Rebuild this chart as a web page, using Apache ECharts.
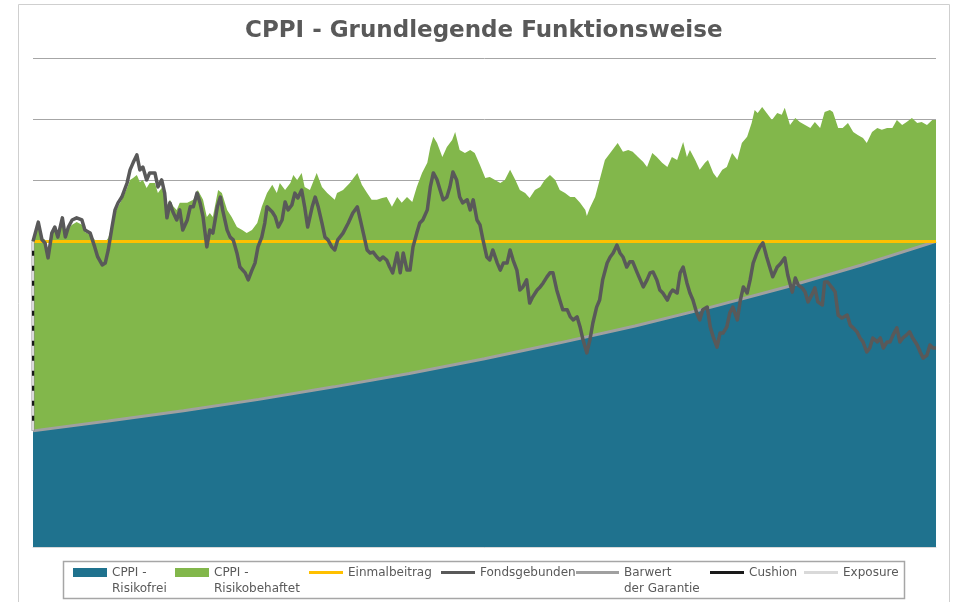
<!DOCTYPE html>
<html>
<head>
<meta charset="utf-8">
<title>CPPI - Grundlegende Funktionsweise</title>
<script src="https://cdn.jsdelivr.net/npm/echarts@6/dist/echarts.min.js"></script>
<style>
html, body { margin: 0; padding: 0; background: #fff; }
#cppi-chart { width: 953px; height: 602px; }
</style>
</head>
<body>
<div id="cppi-chart"></div>
<script>
// Zeitachse in Monaten (10 Jahre), Werte in % des Einmalbeitrags
const laufzeitMonate = 120;
const einmalbeitrag = 100;

// Fondsgebundene Anlage (reiner Fonds ohne Garantie)
const fondsMonate = [
    0, 0.7, 1.2, 1.6, 2.0, 2.5, 2.9, 3.3, 3.9, 4.3,
    4.7, 5.2, 5.8, 6.5, 6.9, 7.6, 8.2, 8.6, 9.2, 9.6,
    10.0, 10.5, 10.9, 11.3, 11.8, 12.5, 12.9, 13.3, 13.8, 14.2,
    14.6, 15.1, 15.5, 16.2, 16.6, 17.1, 17.5, 17.8, 18.2, 18.6,
    19.1, 19.5, 19.9, 20.5, 20.9, 21.3, 21.8, 22.2, 22.6, 23.1,
    23.5, 23.9, 24.5, 24.9, 25.2, 25.8, 26.2, 26.6, 27.1, 27.5,
    28.2, 28.6, 29.1, 29.5, 29.9, 30.4, 30.8, 31.1, 31.8, 32.2,
    32.6, 33.1, 33.5, 33.9, 34.4, 34.8, 35.2, 35.7, 36.1, 36.5,
    37.1, 37.5, 37.9, 38.4, 38.8, 39.2, 39.7, 40.1, 40.5, 41.2,
    41.9, 42.5, 43.1, 43.5, 43.9, 44.4, 44.8, 45.2, 45.7, 46.1,
    46.5, 47.0, 47.4, 47.8, 48.4, 48.8, 49.2, 49.7, 50.1, 50.5,
    51.0, 51.4, 51.8, 52.4, 52.8, 53.2, 53.7, 54.1, 54.5, 55.0,
    55.4, 55.8, 56.3, 56.7, 57.1, 57.7, 58.1, 58.5, 59.0, 59.4,
    59.8, 60.3, 60.7, 61.1, 61.7, 62.1, 62.5, 63.0, 63.4, 63.8,
    64.3, 64.7, 65.1, 65.6, 66.0, 66.4, 67.0, 67.4, 67.8, 68.3,
    68.7, 69.1, 69.6, 70.0, 70.4, 71.0, 71.4, 71.8, 72.3, 72.7,
    73.1, 73.6, 74.0, 74.4, 74.9, 75.3, 75.7, 76.3, 76.7, 77.1,
    77.6, 78.0, 78.4, 78.9, 79.3, 79.7, 80.3, 80.7, 81.1, 81.6,
    82.0, 82.4, 82.9, 83.3, 83.7, 84.3, 84.7, 85.0, 85.6, 86.0,
    86.4, 86.9, 87.3, 87.7, 88.2, 88.6, 89.0, 89.6, 90.0, 90.4,
    90.9, 91.3, 91.7, 92.2, 92.6, 93.0, 93.6, 94.0, 94.4, 94.9,
    95.3, 95.7, 96.2, 96.6, 97.0, 97.5, 97.9, 98.3, 98.9, 99.3,
    99.9, 100.3, 100.9, 101.3, 101.7, 102.2, 102.6, 103.0, 103.5, 103.9,
    104.3, 104.9, 105.2, 105.6, 106.2, 106.6, 107.0, 107.5, 108.2, 108.6,
    109.0, 109.5, 109.9, 110.3, 110.8, 111.2, 111.6, 112.2, 112.6, 113.0,
    113.5, 113.9, 114.3, 114.8, 115.2, 115.6, 116.1, 116.5, 116.9, 117.5,
    117.9, 118.3, 118.8, 119.2, 119.6, 120.0
];
const fondsWerte = [
    100, 106.3, 100.5, 99.5, 94.6, 102.7, 104.7, 101.4, 107.7, 101.4,
    104.7, 107.0, 107.7, 107.0, 103.7, 102.7, 98.2, 94.9, 92.3, 92.9,
    97.2, 104.7, 110.3, 112.6, 114.5, 119.1, 123.4, 125.7, 128.3, 123.4,
    124.3, 120.1, 122.4, 122.4, 117.8, 120.1, 115.8, 107.7, 112.6, 109.6,
    107.0, 110.3, 103.7, 107.0, 111.3, 111.3, 115.8, 112.6, 108.0, 98.2,
    103.7, 102.7, 111.3, 114.5, 110.3, 103.7, 101.4, 100.5, 96.2, 91.6,
    89.7, 87.4, 90.6, 92.9, 98.2, 101.4, 106.0, 111.3, 109.6, 108.0,
    104.7, 107.0, 112.9, 110.3, 111.9, 115.8, 114.2, 116.8, 111.3, 104.7,
    111.3, 114.5, 111.3, 106.0, 101.4, 100.5, 98.2, 97.2, 100.5, 102.7,
    106.0, 109.3, 111.3, 107.0, 102.7, 97.2, 96.2, 96.5, 94.9, 93.9,
    94.9, 93.9, 91.6, 89.7, 96.2, 89.7, 96.2, 90.6, 90.6, 98.2,
    102.7, 106.0, 107.0, 110.3, 117.8, 122.4, 120.1, 116.8, 113.6, 114.5,
    117.8, 122.7, 120.1, 114.5, 112.6, 113.6, 110.3, 113.6, 107.0, 105.4,
    100.5, 94.9, 93.9, 97.2, 92.9, 90.6, 92.9, 92.9, 97.2, 93.9,
    90.6, 84.1, 85.1, 87.4, 79.8, 81.8, 84.1, 85.1, 86.4, 88.4,
    89.7, 89.7, 84.1, 80.8, 77.6, 77.6, 75.3, 74.3, 75.3, 72.0,
    67.7, 63.5, 67.7, 73.3, 78.5, 80.8, 87.4, 92.9, 94.9, 96.2,
    98.8, 96.2, 94.9, 91.6, 93.3, 93.3, 89.7, 87.4, 85.1, 87.4,
    89.7, 90.0, 87.4, 84.1, 83.1, 80.8, 83.1, 84.1, 83.1, 89.7,
    91.6, 86.4, 83.1, 80.8, 76.6, 74.3, 77.6, 78.5, 72.0, 68.7,
    65.4, 70.0, 70.0, 72.0, 76.6, 78.5, 74.3, 80.8, 85.1, 83.1,
    87.4, 92.9, 96.2, 98.2, 99.5, 94.9, 91.6, 88.4, 91.6, 92.6,
    94.6, 89.0, 83.4, 88.0, 85.7, 84.8, 83.4, 80.2, 82.5, 84.8,
    80.2, 79.2, 86.7, 86.7, 84.8, 83.4, 75.9, 74.9, 75.9, 72.6,
    71.7, 70.4, 68.4, 67.1, 63.8, 65.1, 68.4, 67.1, 68.4, 65.1,
    67.1, 67.1, 69.4, 71.7, 67.1, 68.4, 69.4, 70.4, 68.4, 66.1,
    63.8, 61.8, 62.8, 66.1, 65.1, 65.1
];

// CPPI-Gesamtwert (risikofreier + risikobehafteter Teil)
const cppiMonate = [
    0, 0.7, 1.2, 1.6, 2.0, 2.5, 2.9, 3.3, 3.9, 4.3,
    4.7, 5.2, 5.8, 6.5, 6.9, 7.6, 8.2, 8.6, 9.2, 9.6,
    10.0, 10.5, 10.9, 11.3, 11.8, 12.5, 12.9, 13.3, 13.8, 14.2,
    14.6, 15.1, 15.5, 16.2, 16.6, 17.1, 17.5, 17.8, 18.2, 18.6,
    19.1, 19.5, 20.5, 21.3, 21.9, 22.6, 23.1, 23.5, 23.9, 24.6,
    25.1, 25.8, 26.4, 27.1, 27.8, 28.4, 29.1, 29.8, 30.4, 31.1,
    31.8, 32.4, 32.8, 33.5, 34.2, 34.6, 35.1, 35.7, 36.1, 36.8,
    37.7, 38.4, 39.1, 40.1, 40.4, 41.2, 42.1, 43.1, 43.7, 44.4,
    45.0, 45.7, 46.4, 47.0, 47.7, 48.4, 49.0, 49.7, 50.4, 51.0,
    51.7, 52.4, 52.8, 53.2, 53.7, 54.4, 55.0, 55.7, 56.1, 56.7,
    57.4, 58.1, 58.7, 59.4, 60.1, 60.7, 61.4, 62.1, 62.7, 63.4,
    64.1, 64.7, 65.4, 66.0, 66.7, 67.4, 68.0, 68.7, 69.4, 70.0,
    70.7, 71.4, 72.0, 72.7, 73.4, 73.6, 74.0, 74.7, 75.3, 76.0,
    76.7, 77.3, 77.7, 78.4, 79.1, 79.7, 80.4, 81.1, 81.6, 82.3,
    82.9, 83.6, 84.3, 84.9, 85.6, 86.4, 86.9, 87.3, 88.0, 88.6,
    89.3, 89.7, 90.4, 90.9, 91.6, 92.2, 92.9, 93.6, 94.2, 94.9,
    95.5, 95.9, 96.3, 96.9, 97.5, 98.2, 98.9, 99.5, 99.9, 100.6,
    101.3, 101.9, 102.6, 103.3, 103.9, 104.6, 105.2, 105.9, 106.3, 107.0,
    107.6, 108.3, 109.0, 109.6, 110.3, 110.8, 111.5, 112.2, 112.8, 113.5,
    114.2, 114.8, 115.5, 116.1, 116.8, 117.5, 118.1, 118.8, 119.5, 120.0
];
const cppiWerte = [
    100, 105.4, 101.1, 100.5, 97.2, 102.1, 103.7, 101.8, 106.3, 102.4,
    104.4, 105.4, 106.3, 105.4, 103.1, 102.1, 100.5, 99.5, 99.5, 99.8,
    101.1, 105.4, 109.3, 111.3, 113.6, 117.5, 120.1, 120.7, 121.7, 119.4,
    120.1, 117.5, 119.1, 119.1, 115.8, 117.5, 115.2, 111.9, 113.6, 111.6,
    110.3, 112.6, 112.6, 113.6, 116.8, 113.6, 108.0, 109.3, 108.0, 116.8,
    115.8, 110.3, 108.0, 104.7, 103.7, 102.7, 103.7, 106.0, 111.3, 115.8,
    118.5, 115.8, 119.1, 116.8, 119.1, 121.7, 120.1, 122.4, 117.8, 116.8,
    122.4, 117.8, 115.8, 113.6, 115.8, 116.8, 119.1, 122.4, 118.5, 115.8,
    113.6, 113.6, 114.2, 114.5, 111.3, 114.5, 112.6, 114.5, 112.9, 117.8,
    122.4, 125.7, 130.9, 134.2, 132.2, 127.6, 130.9, 133.2, 135.8, 129.9,
    128.9, 129.9, 128.9, 125.0, 120.7, 121.1, 120.1, 119.1, 120.1, 123.4,
    120.1, 116.8, 115.8, 114.2, 116.8, 117.8, 120.1, 121.7, 120.1, 116.8,
    115.8, 114.5, 114.5, 112.6, 110.3, 108.3, 110.9, 114.5, 120.1, 126.6,
    128.9, 130.9, 132.2, 129.3, 129.9, 129.3, 127.6, 126.0, 124.3, 128.9,
    127.6, 125.7, 124.3, 127.6, 126.6, 132.5, 127.6, 129.9, 126.6, 123.4,
    125.7, 126.6, 122.4, 120.7, 123.4, 124.3, 128.9, 126.6, 132.2, 134.2,
    138.7, 143.0, 142.0, 144.0, 142.0, 139.7, 142.0, 141.4, 143.7, 138.1,
    140.4, 139.1, 138.1, 137.1, 139.1, 137.1, 142.3, 143.0, 142.3, 137.1,
    137.1, 138.7, 135.8, 134.8, 133.8, 132.2, 135.8, 137.1, 136.5, 137.1,
    137.1, 139.7, 138.1, 139.1, 140.4, 138.7, 139.1, 138.1, 139.7, 139.7
];

// Barwert der Garantie = risikofreier Anteil
const garantieMonate = [0, 10, 20, 30, 40, 50, 60, 70, 80, 90, 100, 110, 120];
const barwertWerte = [38.0, 41.2, 44.6, 48.3, 52.4, 56.8, 61.6, 66.8, 72.3, 78.4, 85.0, 92.2, 100];

const zip = (xs, ys) => xs.map((x, i) => [x, ys[i]]);

const fontFamily = 'DejaVu Sans';
const textGrau = '#595959';

// leading empty line keeps the first text line level with the icon
const legendTexte = {
    'CPPI - Risikofrei': '\nCPPI -\nRisikofrei',
    'CPPI - Risikobehaftet': '\nCPPI -\nRisikobehaftet',
    'Barwert der Garantie': '\nBarwert\nder Garantie'
};

// one legend per entry, so each sits where Excel put it
const legendEintrag = (name, left, iconW, iconH) => {
    const zweizeilig = !!legendTexte[name];
    return {
        data: [name],
        left: left,
        top: zweizeilig ? 548.5 : 564.5,
        padding: 0,
        icon: 'rect',
        itemWidth: iconW,
        itemHeight: iconH,
        itemStyle: { borderWidth: 0 },
        formatter: n => legendTexte[n] || n,
        textStyle: {
            fontFamily: fontFamily,
            fontSize: 12,
            color: textGrau,
            lineHeight: 16
        }
    };
};

const chart = echarts.init(document.getElementById('cppi-chart'), null, { renderer: 'canvas' });

const option = {
    animation: false,
    backgroundColor: '#ffffff',
    title: {
        text: 'CPPI - Grundlegende Funktionsweise',
        left: 245,
        top: 20,
        padding: 0,
        textStyle: {
            fontFamily: fontFamily,
            fontSize: 23,
            fontWeight: 'bold',
            color: textGrau
        }
    },
    graphic: [
        {
            type: 'rect',
            silent: true,
            z: -10,
            shape: { x: 18.5, y: 4.5, width: 931, height: 640 },
            style: { fill: 'none', stroke: '#cfcfcf', lineWidth: 1 }
        },
        {
            type: 'rect',
            silent: true,
            shape: { x: 63.5, y: 561.5, width: 841, height: 37 },
            style: { fill: 'none', stroke: '#a6a6a6', lineWidth: 1.5 }
        }
    ],
    legend: [
        legendEintrag('CPPI - Risikofrei', 73, 34, 9),
        legendEintrag('CPPI - Risikobehaftet', 175, 34, 9),
        legendEintrag('Einmalbeitrag', 309, 34, 3),
        legendEintrag('Fondsgebunden', 441, 34, 3),
        legendEintrag('Barwert der Garantie', 576, 43, 3),
        legendEintrag('Cushion', 710, 34, 3),
        legendEintrag('Exposure', 804, 34, 3)
    ],
    grid: {
        left: 33,
        right: 17,
        top: 58,
        bottom: 55,
        outerBoundsMode: 'none'
    },
    xAxis: {
        type: 'value',
        min: 0,
        max: laufzeitMonate,
        axisLine: { show: true, lineStyle: { color: '#d9d9d9', width: 1 } },
        axisTick: { show: false },
        axisLabel: { show: false },
        splitLine: { show: false }
    },
    yAxis: {
        type: 'value',
        min: 0,
        max: 160,
        interval: 20,
        axisLine: { show: false },
        axisTick: { show: false },
        axisLabel: { show: false },
        splitLine: { show: true, lineStyle: { color: '#a6a6a6', width: 1 } }
    },
    series: [
        {
            name: 'CPPI - Risikobehaftet',
            type: 'line',
            color: '#82b74b',
            data: zip(cppiMonate, cppiWerte),
            showSymbol: false,
            lineStyle: { width: 0 },
            areaStyle: { color: '#82b74b', opacity: 1 },
            z: 1
        },
        {
            name: 'CPPI - Risikofrei',
            type: 'line',
            color: '#1f728e',
            data: zip(garantieMonate, barwertWerte),
            showSymbol: false,
            lineStyle: { width: 0 },
            areaStyle: { color: '#1f728e', opacity: 1 },
            z: 2
        },
        {
            name: 'Barwert der Garantie',
            type: 'line',
            color: '#a0a0a0',
            data: zip(garantieMonate, barwertWerte),
            showSymbol: false,
            lineStyle: { width: 3, color: '#a0a0a0' },
            z: 3
        },
        {
            name: 'Einmalbeitrag',
            type: 'line',
            color: '#ffc000',
            data: [[0, einmalbeitrag], [laufzeitMonate, einmalbeitrag]],
            showSymbol: false,
            lineStyle: { width: 3, color: '#ffc000' },
            z: 4
        },
        {
            name: 'Fondsgebunden',
            type: 'line',
            color: '#595959',
            data: zip(fondsMonate, fondsWerte),
            showSymbol: false,
            lineStyle: { width: 3.5, color: '#595959', join: 'round' },
            z: 5
        },
        {
            name: 'Cushion',
            type: 'line',
            color: '#1a1a1a',
            data: [[0, barwertWerte[0]], [0, einmalbeitrag]],
            showSymbol: false,
            lineStyle: { width: 2.5, color: '#1a1a1a' },
            z: 6
        },
        {
            name: 'Exposure',
            type: 'line',
            color: '#d9d9d9',
            data: [[0, barwertWerte[0]], [0, einmalbeitrag]],
            showSymbol: false,
            lineStyle: { width: 2.5, color: '#d9d9d9', type: [10, 5] },
            z: 7
        }
    ]
};

chart.setOption(option);
</script>
</body>
</html>
